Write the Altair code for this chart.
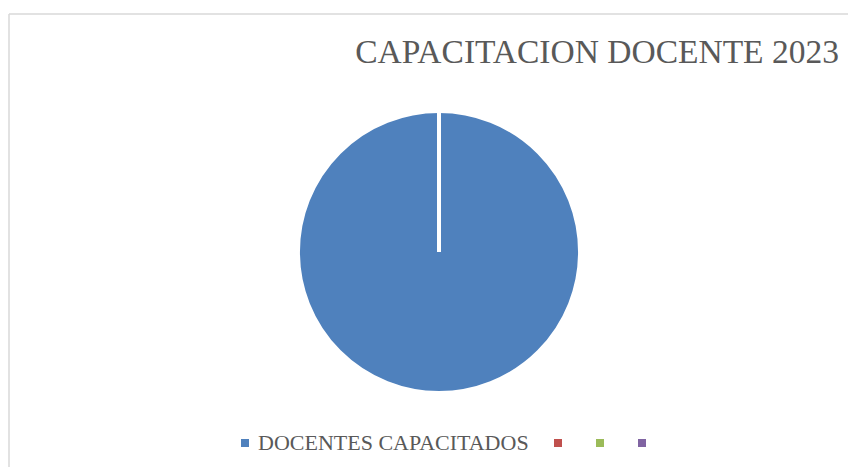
import altair as alt
import pandas as pd

# Data
categories = ["DOCENTES CAPACITADOS", " ", "  ", "   "]
values = [100, 0, 0, 0]
colors = ["#4F81BD", "#C0504D", "#9BBB59", "#8064A2"]
title_text = "CAPACITACION DOCENTE 2023"

df = pd.DataFrame({
    "categoria": categories,
    "valor": values,
    "orden": list(range(len(categories))),
})

W, H = 839, 453
FONT = "Liberation Serif"
TEXT_COLOR = "#595959"
BORDER = "#D9D9D9"

pie = alt.Chart(df).mark_arc(outerRadius=141, stroke="white", strokeWidth=4).encode(
    theta=alt.Theta("valor:Q", stack=True),
    order=alt.Order("orden:Q"),
    color=alt.Color(
        "categoria:N",
        sort=categories,
        scale=alt.Scale(domain=categories, range=colors),
        legend=alt.Legend(
            orient="none",
            direction="horizontal",
            columns=4,
            legendX=225,
            legendY=418,
            title=None,
            padding=0,
            symbolType="square",
            symbolSize=64,
            symbolStrokeWidth=0,
            labelFont=FONT,
            labelFontSize=22,
            labelColor=TEXT_COLOR,
            labelOffset=2,
            labelLimit=600,
            columnPadding=18,
            labelExpr="trim(datum.label)",
        ),
    ),
    x=alt.value(430),
    y=alt.value(238),
)

frame_df = pd.DataFrame({"k": [0]})
left_border = alt.Chart(frame_df).mark_rule(color=BORDER, strokeWidth=1.5).encode(
    x=alt.value(0), y=alt.value(0), y2=alt.value(H)
)
top_border = alt.Chart(frame_df).mark_rule(color=BORDER, strokeWidth=1.5).encode(
    x=alt.value(0), x2=alt.value(W), y=alt.value(0)
)

chart = alt.layer(left_border, top_border, pie).properties(
    width=W,
    height=H,
    autosize=alt.AutoSizeParams(type="none"),
    padding={"left": 1, "top": 6, "right": 0, "bottom": 0},
    title=alt.TitleParams(
        title_text,
        anchor="start",
        dx=347,
        offset=-57,
        font=FONT,
        fontSize=33.5,
        fontWeight="normal",
        color=TEXT_COLOR,
    ),
).configure_view(stroke=None).configure_legend(labelFont=FONT)

chart.save("out.html", embed_options={"renderer": "svg", "actions": False})
